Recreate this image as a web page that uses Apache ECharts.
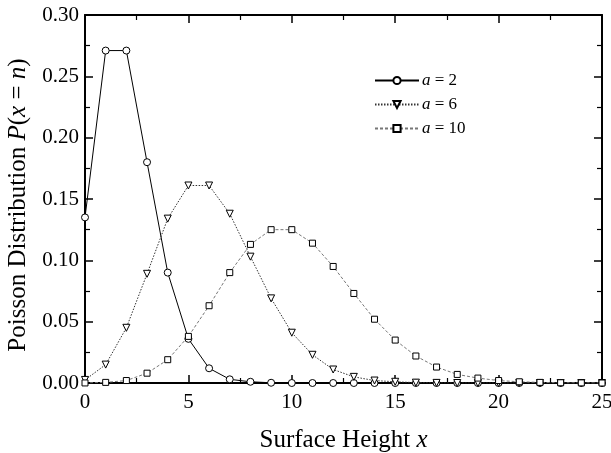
<!DOCTYPE html>
<html><head><meta charset="utf-8">
<script src="https://cdn.jsdelivr.net/npm/echarts@6/dist/echarts.min.js"></script>
<style>html,body{margin:0;padding:0;background:#fff}#c{width:611px;height:453px}</style>
</head><body><div id="c"></div>
<script>
const xValues = [0,1,2,3,4,5,6,7,8,9,10,11,12,13,14,15,16,17,18,19,20,21,22,23,24,25];
const seriesNames = ['a = 2', 'a = 6', 'a = 10'];
const a2 = [0.135,0.271,0.271,0.180,0.090,0.036,0.012,0.003,0.001,0.0002,0,0,0,0,0,0,0,0,0,0,0,0,0,0,0,0];
const a6 = [0.0025,0.015,0.045,0.089,0.134,0.161,0.161,0.138,0.103,0.069,0.041,0.023,0.011,0.005,0.002,0.001,0.0003,0.0001,0,0,0,0,0,0,0,0];
const a10 = [0.00005,0.0005,0.002,0.008,0.019,0.038,0.063,0.090,0.113,0.125,0.125,0.114,0.095,0.073,0.052,0.035,0.022,0.013,0.007,0.004,0.002,0.001,0.0005,0.0002,0.0001,0];
const yTicks = [0,0.05,0.10,0.15,0.20,0.25,0.30];
const xTicks = [0,5,10,15,20,25];

const font = 'Liberation Serif';
const chart = echarts.init(document.getElementById('c'));
const pairs = arr => xValues.map((x,i)=>[x, arr[i]]);
const axCommon = {
  axisLine:{show:true, onZero:false, lineStyle:{color:'#000', width:2}},
  axisTick:{show:true, inside:true, length:8, lineStyle:{color:'#000', width:1.5}},
  minorTick:{show:true, length:5, lineStyle:{color:'#000', width:1.2}},
  splitLine:{show:false}
};
const mk = (name, data, symbol, rot, ltype, color) => ({
  name, type:'line', data: pairs(data), symbol, symbolSize: symbol==='rect'?6:7, symbolRotate: rot,
  showAllSymbol:true,
  lineStyle:{color, width:1, type: ltype},
  itemStyle:{color:'#fff', borderColor:'#000', borderWidth:1},
  z: 2
});
const nameRich = {n:{fontSize:25, fontFamily:font, color:'#000'}, i:{fontSize:25, fontFamily:font, fontStyle:'italic', color:'#000'}};
chart.setOption({
  animation:false,
  backgroundColor:'#fff',
  textStyle:{fontFamily:font},
  grid:{left:85, right:9, top:15, bottom:70, containLabel:false, outerBoundsMode:'none'},
  legend:{
    orient:'vertical', left:369, top:67, itemWidth:44, itemHeight:9, itemGap:7,
    data: seriesNames,
    formatter: n => '{i|a}' + n.slice(1),
    textStyle:{fontFamily:font, fontSize:17, color:'#000', padding:[0,0,0,-2],
      rich:{i:{fontStyle:'italic', fontFamily:font, fontSize:17, color:'#000'}}}
  },
  xAxis:[
    Object.assign({type:'value', min:0, max:25, interval:5, position:'bottom',
      minorTick:Object.assign({}, axCommon.minorTick, {splitNumber:2}),
      axisLabel:{color:'#000', fontSize:21, fontFamily:font, margin:9,
        formatter: v => xTicks.includes(v) ? String(v) : ''},
      name:'{n|Surface Height }{i|x}', nameLocation:'middle', nameGap:45,
      nameTextStyle:{rich:nameRich}
    }, {axisLine:axCommon.axisLine, axisTick:axCommon.axisTick, splitLine:axCommon.splitLine}),
    Object.assign({type:'value', min:0, max:25, interval:5, position:'top',
      minorTick:Object.assign({}, axCommon.minorTick, {splitNumber:2}),
      axisLabel:{show:false}
    }, {axisLine:axCommon.axisLine, axisTick:axCommon.axisTick, splitLine:axCommon.splitLine})
  ],
  yAxis:[
    Object.assign({type:'value', min:0, max:0.30, interval:0.05, position:'left',
      minorTick:Object.assign({}, axCommon.minorTick, {splitNumber:2}),
      axisLabel:{color:'#000', fontSize:21, fontFamily:font, margin:6,
        formatter: v => v.toFixed(2)},
      name:'{n|Poisson Distribution }{i|P}{n|(}{i|x}{n| = }{i|n}{n|)}', nameLocation:'middle', nameGap:53, nameRotate:90,
      nameTextStyle:{rich:nameRich, padding:[0,12,0,0]}
    }, {axisLine:axCommon.axisLine, axisTick:axCommon.axisTick, splitLine:axCommon.splitLine}),
    Object.assign({type:'value', min:0, max:0.30, interval:0.05, position:'right',
      minorTick:Object.assign({}, axCommon.minorTick, {splitNumber:2}),
      axisLabel:{show:false}
    }, {axisLine:axCommon.axisLine, axisTick:axCommon.axisTick, splitLine:axCommon.splitLine})
  ],
  series:[
    mk(seriesNames[0], a2, 'circle', 0, 'solid', '#000'),
    mk(seriesNames[1], a6, 'triangle', 180, [1.5,1.5], '#333'),
    mk(seriesNames[2], a10, 'rect', 0, [3,2], '#777')
  ]
});
</script></body></html>
